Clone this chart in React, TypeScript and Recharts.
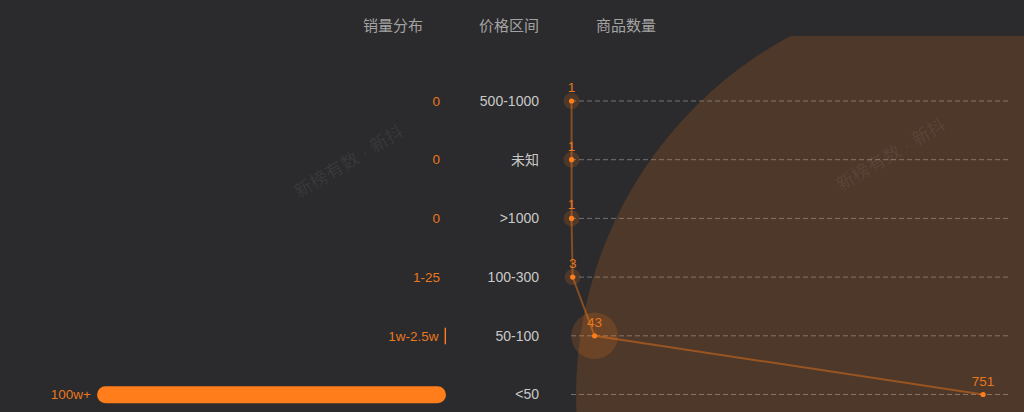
import React from "react";
import {
  Bar, BarChart, CartesianGrid, ComposedChart, LabelList, Line, XAxis, YAxis,
} from "recharts";

// rows read top to bottom
const priceRanges = ["500-1000", "未知", ">1000", "100-300", "50-100", "<50"];
const salesLabels = ["0", "0", "0", "1-25", "1w-2.5w", "100w+"];
// relative bar length of the sales distribution (100 = longest)
const salesBar = [0, 0, 0, 0, 0.4, 100];
const productCounts = [1, 1, 1, 3, 43, 751];

const headers = [
  { text: "销量分布", x: 393 },
  { text: "价格区间", x: 509 },
  { text: "商品数量", x: 626 },
];

const rows = priceRanges.map((price, i) => ({
  price,
  sales: salesLabels[i],
  salesBar: salesBar[i],
  count: productCounts[i],
}));

const BG = "#2b2b2d";
const ORANGE = "#ff7d1a";
const LABEL_ORANGE = "#e9771d";
const FONT = "'Liberation Sans', 'Noto Sans CJK SC', sans-serif";

const COUNT_MAX = 800;
// bubble radius in px per product
const BUBBLE_SCALE = 0.542;

function SalesLabel(props: any) {
  const vb = props.viewBox ?? props;
  const x = Number(vb.x ?? 0);
  const w = Number(vb.width ?? 0);
  const y = Number(vb.y ?? 0);
  const h = Number(vb.height ?? 0);
  return (
    <text
      x={Math.min(x, x + w) - 6}
      y={y + h / 2}
      textAnchor="end"
      dominantBaseline="central"
      fill={LABEL_ORANGE}
      fontSize={13.5}
      fontFamily={FONT}
    >
      {props.value}
    </text>
  );
}

function BubbleDot(props: any) {
  const { cx, cy, value, index } = props;
  if (cx == null || cy == null) return null;
  const r = Math.max(8, Number(value) * BUBBLE_SCALE);
  return (
    <g key={`dot-${index}`}>
      <circle cx={cx} cy={cy} r={r} fill="rgba(255,125,26,0.17)" />
      <circle cx={cx} cy={cy} r={2.6} fill={ORANGE} />
    </g>
  );
}

const watermarkStyle: React.CSSProperties = {
  position: "absolute",
  fontSize: 18,
  fontFamily: FONT,
  color: "rgba(255,255,255,0.07)",
  whiteSpace: "nowrap",
  transform: "translate(-50%, -50%) rotate(-31deg)",
  pointerEvents: "none",
};

export default function App() {
  return (
    <div
      style={{
        position: "absolute", left: 0, top: 0, width: 1024, height: 412,
        background: BG, overflow: "hidden", fontFamily: FONT,
      }}
    >
      {headers.map((h) => (
        <div
          key={h.text}
          style={{
            position: "absolute", left: h.x, top: 24, transform: "translate(-50%, -50%)",
            fontSize: 15, color: "#a3a3a3", whiteSpace: "nowrap",
          }}
        >
          {h.text}
        </div>
      ))}

      <div style={{ position: "absolute", left: 0, top: 0 }}>
        <BarChart
          layout="vertical"
          width={470}
          height={424}
          data={rows}
          margin={{ top: 71.7, right: 24, left: 97, bottom: 0 }}
        >
          <XAxis type="number" domain={[0, 100]} reversed hide />
          <YAxis type="category" dataKey="price" hide />
          <Bar
            dataKey="salesBar"
            fill={ORANGE}
            barSize={17}
            radius={8.5}
            minPointSize={0.001}
            isAnimationActive={false}
          >
            <LabelList dataKey="sales" content={SalesLabel} />
          </Bar>
        </BarChart>
      </div>

      <div style={{ position: "absolute", left: 471, top: 36 }}>
        <ComposedChart
          layout="vertical"
          width={553}
          height={388}
          data={rows}
          margin={{ top: 65, right: 14, left: 0, bottom: 29.5 }}
        >
          <CartesianGrid vertical={false} stroke="rgba(200,200,200,0.45)" strokeDasharray="5 3" />
          <XAxis type="number" domain={[0, COUNT_MAX]} hide />
          <YAxis
            type="category"
            dataKey="price"
            width={100}
            axisLine={false}
            tickLine={false}
            tickSize={0}
            tickMargin={32}
            tick={{ fill: "#c9c9c9", fontSize: 14, fontFamily: FONT }}
          />
          <Line
            dataKey="count"
            stroke="rgba(255,125,26,0.42)"
            strokeWidth={2}
            dot={BubbleDot}
            activeDot={false}
            isAnimationActive={false}
          >
            <LabelList dataKey="count" position="top" offset={9} fill={LABEL_ORANGE} fontSize={13.5} fontFamily={FONT} />
          </Line>
        </ComposedChart>
      </div>

      <div style={{ ...watermarkStyle, left: 348, top: 160 }}>新榜有数 · 新抖</div>
      <div style={{ ...watermarkStyle, left: 890, top: 153 }}>新榜有数 · 新抖</div>
    </div>
  );
}
